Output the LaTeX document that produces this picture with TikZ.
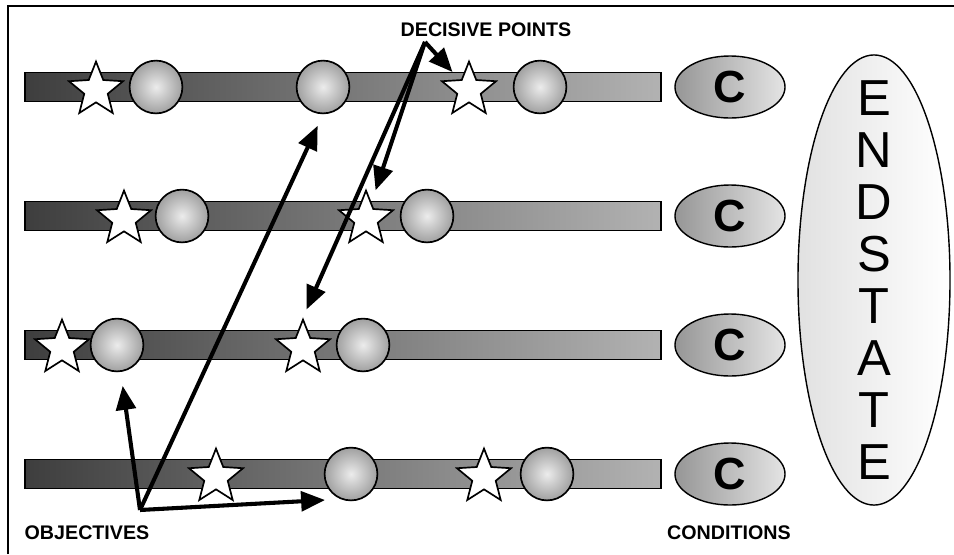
\documentclass[tikz,border=0pt]{standalone}
\usepackage{fontspec}
\setmainfont{Liberation Sans}
\usetikzlibrary{shapes.geometric, arrows.meta, positioning}
\definecolor{bardark}{RGB}{62,62,62}
\definecolor{barlight}{RGB}{178,178,178}
\definecolor{balledge}{RGB}{160,160,160}
\definecolor{ballcore}{RGB}{236,236,236}
\definecolor{condleft}{RGB}{150,150,150}
\definecolor{condright}{RGB}{228,228,228}
\definecolor{endleft}{RGB}{225,225,225}
\tikzstyle{track} = [rectangle, draw=black, line width=1.3pt, minimum width=15.9cm, minimum height=0.725cm, inner sep=0pt, left color=bardark, right color=barlight]
\tikzstyle{objective} = [circle, draw=black, line width=1.2pt, minimum size=1.32cm, inner sep=0pt, inner color=ballcore, outer color=balledge]
\tikzstyle{decisive} = [star, star points=5, star point ratio=2.3, draw=black, line width=1.2pt, fill=white, minimum size=1.42cm, inner sep=0pt]
\tikzstyle{condition} = [ellipse, draw=black, line width=1pt, minimum width=2.75cm, minimum height=1.55cm, inner sep=0pt, left color=condleft, right color=condright, font=\fontsize{32}{36}\selectfont\bfseries]
\tikzstyle{endstate} = [ellipse, draw=black, line width=1pt, minimum width=3.8cm, minimum height=11.25cm, inner sep=0pt, left color=endleft, right color=white]
\tikzstyle{endletters} = [align=center, inner sep=0pt, font=\fontsize{36}{37}\selectfont]
\tikzstyle{caption} = [font=\fontsize{14}{16}\selectfont\bfseries, inner sep=0pt]
\tikzstyle{pointer} = [line width=2.9pt, -{Triangle[length=17pt,width=14pt]}]

\begin{document}
\begin{tikzpicture}[x=0.025cm, y=-0.025cm]
\useasboundingbox (0,0) rectangle (954,554);

% Frame
\draw[line width=1.5pt] (8,554) -- (8,6) -- (954,6);

% Lines of operation
\node[track] (bar1) at (343,87) {};
\node[track] (bar2) at (343,216) {};
\node[track] (bar3) at (343,345) {};
\node[track] (bar4) at (343,474) {};

% Objectives
\node[objective] (o11) at (156,87) {};
\node[objective] (o12) at (323,87) {};
\node[objective] (o13) at (540,87) {};
\node[objective] (o21) at (182,216) {};
\node[objective] (o22) at (427,216) {};
\node[objective] (o31) at (117,345) {};
\node[objective] (o32) at (363,345) {};
\node[objective] (o41) at (351,474) {};
\node[objective] (o42) at (547,474) {};

% Decisive points
\node[decisive] (s11) at (96,90) {};
\node[decisive] (s12) at (469,90) {};
\node[decisive] (s21) at (124,219) {};
\node[decisive] (s22) at (366,219) {};
\node[decisive] (s31) at (62,348) {};
\node[decisive] (s32) at (303,348) {};
\node[decisive] (s41) at (216,477) {};
\node[decisive] (s42) at (484,477) {};

% Conditions
\node[condition] (c1) at (730,87) {C};
\node[condition] (c2) at (730,216) {C};
\node[condition] (c3) at (730,345) {C};
\node[condition] (c4) at (730,474) {C};

% End state
\node[endstate] (end) at (874,280) {};
\node[endletters] (endtext) at (end) {E\\N\\D\\S\\T\\A\\T\\E};

% Labels
\node[caption] (dptext) at (486,30) {DECISIVE POINTS};
\node[caption] (objtext) at (87,533) {OBJECTIVES};
\node[caption] (context) at (729,533) {CONDITIONS};

% Pointers to decisive points
\coordinate (dp) at (425,42);
\draw[pointer, shorten >=7pt] (dp) -- (s12);
\draw[pointer, shorten >=9pt] (dp) -- (s22);
\draw[pointer, shorten >=6pt] (dp) -- (s32.north);

% Pointers to objectives
\coordinate (obj) at (140,510);
\coordinate (obj4) at (325,500);
\draw[pointer, shorten >=10pt] (obj) -- (o31);
\draw[pointer] (obj) -- (obj4);
\draw[pointer, shorten >=9pt] (obj) -- (o12.south);

\end{tikzpicture}
\end{document}
